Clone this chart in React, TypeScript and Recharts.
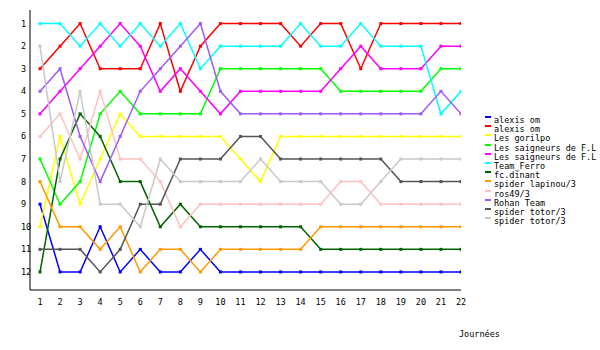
import React from 'react';
import { LineChart, Line, XAxis, YAxis } from 'recharts';

const days = [1, 2, 3, 4, 5, 6, 7, 8, 9, 10, 11, 12, 13, 14, 15, 16, 17, 18, 19, 20, 21, 22];
const rankTicks = [1, 2, 3, 4, 5, 6, 7, 8, 9, 10, 11, 12];

const alexisBlue = [9, 12, 12, 10, 12, 11, 12, 12, 11, 12, 12, 12, 12, 12, 12, 12, 12, 12, 12, 12, 12, 12];
const alexisRed = [3, 2, 1, 3, 3, 3, 1, 4, 2, 1, 1, 1, 1, 2, 1, 1, 3, 1, 1, 1, 1, 1];
const gorilpo = [10, 6, 9, 7, 5, 6, 6, 6, 6, 6, 7, 8, 6, 6, 6, 6, 6, 6, 6, 6, 6, 6];
const saigneursLime = [7, 9, 8, 5, 4, 5, 5, 5, 5, 3, 3, 3, 3, 3, 3, 4, 4, 4, 4, 4, 3, 3];
const saigneursMagenta = [5, 4, 3, 2, 1, 2, 4, 3, 4, 5, 4, 4, 4, 4, 4, 3, 2, 3, 3, 3, 2, 2];
const teamFerro = [1, 1, 2, 1, 2, 1, 2, 1, 3, 2, 2, 2, 2, 1, 2, 2, 1, 2, 2, 2, 5, 4];
const fcDinant = [12, 7, 5, 6, 8, 8, 10, 9, 10, 10, 10, 10, 10, 10, 11, 11, 11, 11, 11, 11, 11, 11];
const spiderLapinou = [8, 10, 10, 11, 10, 12, 11, 11, 12, 11, 11, 11, 11, 11, 10, 10, 10, 10, 10, 10, 10, 10];
const ros49 = [6, 5, 7, 4, 7, 7, 8, 10, 9, 9, 9, 9, 9, 9, 9, 8, 8, 9, 9, 9, 9, 9];
const rohanTeam = [4, 3, 6, 8, 6, 4, 3, 2, 1, 4, 5, 5, 5, 5, 5, 5, 5, 5, 5, 5, 4, 5];
const totorDark = [11, 11, 11, 12, 11, 9, 9, 7, 7, 7, 6, 6, 7, 7, 7, 7, 7, 7, 8, 8, 8, 8];
const totorLight = [2, 8, 4, 9, 9, 10, 7, 8, 8, 8, 8, 7, 8, 8, 8, 9, 9, 8, 7, 7, 7, 7];

const series = [
  { key: 's1', name: 'alexis om', values: alexisBlue, color: '#0000ff' },
  { key: 's2', name: 'alexis om', values: alexisRed, color: '#ff0000' },
  { key: 's3', name: 'Les gorilpo', values: gorilpo, color: '#ffff00' },
  { key: 's4', name: 'Les saigneurs de F.L', values: saigneursLime, color: '#00ff00' },
  { key: 's5', name: 'Les saigneurs de F.L', values: saigneursMagenta, color: '#ff00ff' },
  { key: 's6', name: 'Team_Ferro', values: teamFerro, color: '#00ffff' },
  { key: 's7', name: 'fc.dinant', values: fcDinant, color: '#006400' },
  { key: 's8', name: 'spider lapinou/3', values: spiderLapinou, color: '#ff9900' },
  { key: 's9', name: 'ros49/3', values: ros49, color: '#ffc0c0' },
  { key: 's10', name: 'Rohan Team', values: rohanTeam, color: '#a05af5' },
  { key: 's11', name: 'spider totor/3', values: totorDark, color: '#555555' },
  { key: 's12', name: 'spider totor/3', values: totorLight, color: '#c8c8c8' },
];

const data = days.map((d, i) => {
  const row: any = { day: d };
  series.forEach((s) => { row[s.key] = s.values[i]; });
  return row;
});

const FONT = '"DejaVu Sans Mono", monospace';

// small square marker at every point
const SquareDot = (props: any) => {
  const { cx, cy, stroke } = props;
  if (cx == null || cy == null) return null;
  return <rect x={cx - 1.5} y={cy - 1.5} width={3} height={3} fill={stroke} />;
};

const YTick = (props: any) => (
  <text x={21} y={props.y} dy={3} fontSize={8.5} fontFamily={FONT} fill="#000" textAnchor="start">
    {props.payload.value}
  </text>
);

const XTick = (props: any) => (
  <text x={props.x} y={props.y} dy={7} fontSize={8.5} fontFamily={FONT} fill="#000" textAnchor="middle">
    {props.payload.value}
  </text>
);

const LegendBox = () => (
  <div style={{ position: 'absolute', left: 485, top: 116, fontFamily: FONT, fontSize: 8.5, lineHeight: '9.2px', color: '#000' }}>
    {series.map((s) => (
      <div key={s.key} style={{ position: 'relative', height: 9.2, whiteSpace: 'nowrap', paddingLeft: 9 }}>
        <span style={{ position: 'absolute', left: 0, top: 0, width: 6, height: 2, background: s.color }} />
        {s.name}
      </div>
    ))}
  </div>
);

const App: React.FC = () => {
  return (
    <div style={{ position: 'absolute', left: 0, top: 0, width: 600, height: 350, background: '#fff' }}>
      <LineChart width={600} height={350} data={data} margin={{ top: 10, right: 139, bottom: 30, left: 0 }}>
        <XAxis
          dataKey="day"
          type="number"
          domain={[0.5, 22]}
          ticks={days}
          allowDataOverflow
          tickLine={false}
          axisLine={{ stroke: '#000' }}
          tick={<XTick />}
          interval={0}
        />
        <YAxis
          type="number"
          reversed
          domain={[0.4, 12.8]}
          ticks={rankTicks}
          allowDataOverflow
          width={30}
          tickLine={false}
          axisLine={{ stroke: '#000' }}
          tick={<YTick />}
          interval={0}
        />
        {series.map((s) => (
          <Line
            key={s.key}
            dataKey={s.key}
            name={s.name}
            type="linear"
            stroke={s.color}
            strokeWidth={1.5}
            dot={<SquareDot />}
            activeDot={false}
            isAnimationActive={false}
          />
        ))}
        <text x={459} y={337} fontSize={8.5} fontFamily={FONT} fill="#000">Journées</text>
      </LineChart>
      <LegendBox />
    </div>
  );
};

export default App;
